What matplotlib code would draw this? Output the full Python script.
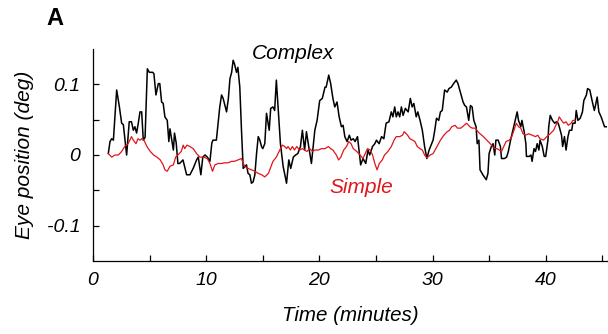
import matplotlib
matplotlib.use('Agg')
import matplotlib.pyplot as plt

plt.rcParams['font.family'] = ['Liberation Sans', 'DejaVu Sans']
plt.rcParams['font.style'] = 'italic'

# Complex (black) trace: time in minutes, eye position in deg
complex_t = [1.35, 1.5, 1.65, 1.8, 2.09, 2.33, 2.53, 2.68, 2.97, 3.2, 3.4, 3.56, 3.7, 3.85,
             4.0, 4.15, 4.3, 4.44, 4.6, 4.8, 4.97, 5.27, 5.38, 5.56, 5.77, 5.9, 6.06, 6.2,
             6.35, 6.56, 6.7, 6.8, 6.94, 7.1, 7.2, 7.35, 7.5, 7.65, 7.95, 8.27, 8.56, 8.85,
             9.15, 9.3, 9.53, 9.7, 9.9, 10.1, 10.33, 10.5, 10.6, 10.9, 11.2, 11.36, 11.5,
             11.8, 11.96, 12.1, 12.25, 12.38, 12.5, 12.68, 12.8, 12.97, 13.12, 13.27, 13.56,
             13.7, 13.86, 14.0, 14.15, 14.3, 14.45, 14.6, 14.74, 14.89, 15.0, 15.18, 15.33,
             15.57, 15.7, 15.9, 16.05, 16.2, 16.35, 16.56, 16.8, 17.1, 17.3, 17.47, 17.7,
             17.9, 18.1, 18.33, 18.5, 18.7, 18.86, 19.06, 19.3, 19.45, 19.6, 19.8, 20.03,
             20.26, 20.5, 20.6, 20.83, 21.0, 21.2, 21.36, 21.56, 21.75, 21.95, 22.1, 22.25,
             22.45, 22.65, 22.8, 23.0, 23.16, 23.37, 23.5, 23.65, 23.86, 24.1, 24.3, 24.45,
             24.7, 24.9, 25.05, 25.28, 25.5, 25.7, 25.9, 26.15, 26.36, 26.5, 26.66, 26.8,
             26.95, 27.1, 27.25, 27.4, 27.6, 27.85, 28.04, 28.2, 28.35, 28.56, 28.7, 28.9,
             29.1, 29.3, 29.5, 29.7, 29.9, 30.05, 30.2, 30.35, 30.55, 30.7, 30.86, 31.07,
             31.3, 31.45, 31.66, 31.86, 32.1, 32.25, 32.46, 32.7, 32.85, 33.0, 33.2, 33.35,
             33.5, 33.65, 33.85, 33.95, 34.1, 34.2, 34.45, 34.75, 34.9, 35.0, 35.2, 35.35,
             35.5, 35.6, 35.8, 36.0, 36.1, 36.35, 36.55, 36.7, 36.9, 37.1, 37.3, 37.48,
             37.6, 37.8, 37.9, 38.1, 38.25, 38.3, 38.55, 38.7, 38.8, 38.97, 39.1, 39.25,
             39.4, 39.5, 39.7, 39.87, 40.0, 40.2, 40.27, 40.4, 40.6, 40.8, 40.95, 41.1,
             41.2, 41.4, 41.5, 41.66, 41.8, 41.97, 42.1, 42.3, 42.4, 42.6, 42.7, 42.85,
             43.05, 43.25, 43.37, 43.6, 43.7, 43.9, 44.1, 44.3, 44.4, 44.55, 44.7, 44.9,
             45.2, 45.4]
complex_y = [0.002, 0.019, 0.023, 0.021, 0.092, 0.068, 0.045, 0.043, 0.000, 0.047, 0.047,
             0.035, 0.040, 0.031, 0.045, 0.061, 0.061, 0.021, 0.025, 0.122, 0.117, 0.117,
             0.115, 0.085, 0.101, 0.101, 0.075, 0.073, 0.054, 0.049, 0.019, 0.037, 0.023,
             0.007, 0.031, 0.017, -0.012, -0.012, -0.007, -0.028, -0.028, -0.019, -0.007,
             -0.003, -0.028, -0.003, 0.000, -0.003, -0.009, 0.017, 0.021, 0.021, 0.068,
             0.085, 0.080, 0.061, 0.080, 0.108, 0.117, 0.134, 0.129, 0.117, 0.124, 0.096,
             0.035, -0.019, -0.014, -0.026, -0.028, -0.040, -0.038, -0.028, 0.002, 0.026,
             0.021, 0.012, 0.009, 0.016, 0.059, 0.035, 0.066, 0.068, 0.063, 0.106, 0.068,
             0.016, -0.016, -0.040, -0.007, -0.019, -0.003, 0.000, 0.002, 0.012, 0.035,
             0.007, 0.033, 0.012, -0.012, 0.012, 0.035, 0.049, 0.077, 0.080, 0.096, 0.096,
             0.113, 0.101, 0.080, 0.068, 0.075, 0.054, 0.040, 0.042, 0.026, 0.019, 0.028,
             0.021, 0.023, 0.019, 0.026, 0.007, -0.014, -0.005, -0.012, 0.007, 0.000, 0.012,
             0.016, 0.021, 0.016, 0.026, 0.023, 0.045, 0.047, 0.061, 0.054, 0.068, 0.054,
             0.061, 0.054, 0.068, 0.056, 0.066, 0.061, 0.080, 0.068, 0.073, 0.054, 0.061,
             0.049, 0.035, 0.012, -0.005, 0.007, 0.015, 0.021, 0.035, 0.052, 0.049, 0.061,
             0.063, 0.092, 0.089, 0.094, 0.096, 0.101, 0.106, 0.101, 0.089, 0.075, 0.070,
             0.068, 0.049, 0.070, 0.068, 0.049, 0.040, 0.016, 0.021, -0.021, -0.028, -0.035,
             -0.026, 0.002, 0.012, 0.016, 0.000, 0.021, 0.021, 0.012, -0.005, -0.005, -0.003,
             0.005, 0.021, 0.035, 0.049, 0.061, 0.049, 0.040, 0.049, 0.033, 0.016, -0.002,
             -0.002, 0.000, -0.009, 0.009, 0.005, 0.016, 0.007, 0.021, 0.012, -0.002, -0.002,
             0.021, 0.040, 0.056, 0.049, 0.045, 0.047, 0.045, 0.040, 0.028, 0.012, 0.026,
             0.007, 0.026, 0.035, 0.035, 0.045, 0.045, 0.063, 0.049, 0.052, 0.061, 0.077,
             0.085, 0.094, 0.092, 0.077, 0.063, 0.070, 0.082, 0.061, 0.054, 0.040, 0.040]

# Simple (red) trace
simple_t = [1.35, 1.65, 1.94, 2.24, 2.53, 2.8, 3.1, 3.4, 3.56, 3.8, 3.97, 4.15, 4.3, 4.5,
            4.76, 5.06, 5.35, 5.65, 5.94, 6.2, 6.35, 6.56, 6.8, 7.1, 7.3, 7.5, 7.8, 7.97,
            8.1, 8.3, 8.56, 8.85, 9.15, 9.44, 9.74, 10.1, 10.33, 10.56, 10.77, 11.06, 11.36,
            11.65, 11.95, 12.25, 12.5, 12.8, 13.1, 13.4, 13.7, 14.0, 14.3, 14.6, 14.9, 15.18,
            15.5, 15.9, 16.2, 16.5, 16.74, 16.94, 17.1, 17.23, 17.44, 17.62, 17.8, 18.0,
            18.26, 18.5, 18.7, 18.9, 19.15, 19.4, 19.6, 19.9, 20.2, 20.5, 20.8, 21.0, 21.2,
            21.5, 21.7, 21.9, 22.15, 22.4, 22.6, 22.8, 23.0, 23.3, 23.6, 23.85, 24.05, 24.25,
            24.5, 24.7, 24.9, 25.1, 25.3, 25.56, 25.76, 26.06, 26.36, 26.6, 26.8, 27.1,
            27.35, 27.5, 27.8, 28.0, 28.24, 28.45, 28.65, 28.9, 29.1, 29.3, 29.5, 29.8,
            30.05, 30.4, 30.7, 31.0, 31.3, 31.5, 31.7, 32.0, 32.2, 32.5, 32.8, 33.0, 33.3,
            33.5, 33.8, 34.0, 34.2, 34.5, 34.8, 35.1, 35.3, 35.5, 35.7, 35.9, 36.1, 36.3,
            36.5, 36.8, 37.0, 37.2, 37.4, 37.6, 37.8, 38.0, 38.2, 38.5, 38.8, 39.1, 39.3,
            39.5, 39.8, 40.1, 40.4, 40.7, 40.9, 41.1, 41.2, 41.4, 41.6, 41.8, 42.0, 42.25,
            42.4, 42.6]
simple_y = [0.002, -0.003, 0.000, 0.000, 0.005, 0.012, 0.016, 0.026, 0.021, 0.016, 0.023,
            0.021, 0.023, 0.021, 0.012, 0.005, 0.000, -0.003, -0.007, -0.014, -0.021, -0.023,
            -0.016, -0.014, -0.003, 0.000, 0.005, 0.014, 0.009, 0.014, 0.012, 0.009, 0.002,
            -0.003, -0.003, -0.005, -0.012, -0.023, -0.014, -0.012, -0.012, -0.011, -0.011,
            -0.009, -0.009, -0.007, -0.005, -0.016, -0.019, -0.021, -0.023, -0.026, -0.028,
            -0.031, -0.026, -0.009, -0.003, 0.007, 0.014, 0.012, 0.009, 0.012, 0.007, 0.012,
            0.007, 0.012, 0.007, 0.009, 0.007, 0.005, 0.009, 0.005, 0.007, 0.007, 0.009,
            0.009, 0.012, 0.009, 0.007, 0.000, -0.007, -0.003, 0.007, 0.012, 0.019, 0.016,
            0.009, 0.005, 0.000, -0.005, 0.002, 0.009, 0.007, 0.000, -0.012, -0.021, -0.012,
            -0.007, 0.000, 0.005, 0.012, 0.021, 0.026, 0.026, 0.028, 0.033, 0.028, 0.023,
            0.021, 0.019, 0.012, 0.009, 0.007, 0.000, -0.004, 0.000, 0.002, 0.012, 0.021,
            0.028, 0.033, 0.035, 0.040, 0.042, 0.038, 0.038, 0.042, 0.045, 0.040, 0.038,
            0.038, 0.033, 0.030, 0.026, 0.021, 0.016, 0.012, 0.009, 0.009, 0.007, 0.005,
            0.012, 0.019, 0.021, 0.026, 0.035, 0.045, 0.040, 0.038, 0.030, 0.028, 0.030,
            0.028, 0.026, 0.028, 0.023, 0.021, 0.026, 0.030, 0.035, 0.042, 0.049, 0.054,
            0.049, 0.045, 0.047, 0.042, 0.045, 0.049, 0.049]

x_major = [0, 10, 20, 30, 40]
x_minor = [5, 15, 25, 35, 45]
y_ticks = [-0.1, -0.05, 0, 0.05, 0.1]
y_labels = ['-0.1', '', '0', '', '0.1']

fig = plt.figure(figsize=(6.08, 3.34), dpi=100)
ax = fig.add_axes([0.153, 0.2186, 0.845, 0.6347])

ax.plot(complex_t, complex_y, color='black', lw=1.1)
ax.plot(simple_t, simple_y, color='#e0161b', lw=0.9)

ax.set_xlim(0, 45.4)
ax.set_ylim(-0.15, 0.15)
ax.spines['top'].set_visible(False)
ax.spines['right'].set_visible(False)
for s in ['left', 'bottom']:
    ax.spines[s].set_linewidth(0.9)

ax.set_xticks(x_major)
ax.set_xticklabels([str(v) for v in x_major])
ax.set_xticks(x_minor, minor=True)
ax.set_yticks(y_ticks)
ax.set_yticklabels(y_labels)
ax.tick_params(which='both', direction='in', length=4.5, width=0.9, labelsize=14)
ax.tick_params(axis='x', pad=8)
ax.tick_params(axis='y', pad=9)

ax.set_xlabel('Time (minutes)', fontsize=14.8, labelpad=12)
ax.set_ylabel('Eye position (deg)', fontsize=15, labelpad=9)

ax.text(14.0, 0.144, 'Complex', fontsize=15, color='black', va='center', ha='left')
ax.text(20.9, -0.046, 'Simple', fontsize=15, color='#e0161b', va='center', ha='left')

fig.text(0.09, 0.945, 'A', fontsize=17, fontweight='bold', fontstyle='normal',
         ha='center', va='center')

fig.savefig('out.png', dpi=100)
